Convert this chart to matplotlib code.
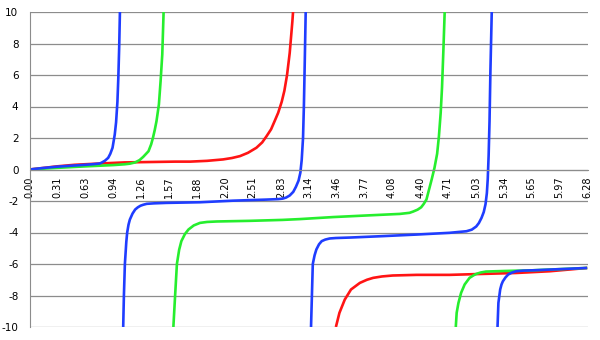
import numpy as np
import matplotlib
matplotlib.use('Agg')
import matplotlib.pyplot as plt

nan = np.nan

# Valores (NaN separa os ramos entre assíntotas)
azul_x = [0.00, 0.16, 0.31, 0.47, 0.63, 0.72, 0.79, 0.81, 0.85, 0.886, 0.91, 0.935, 0.96, 0.975, 0.99, 1.00, 1.01, 1.02,
          nan,
          1.055, 1.063, 1.074, 1.09, 1.10, 1.115, 1.13, 1.16, 1.19, 1.22, 1.25, 1.28, 1.32, 1.40, 1.54, 1.92, 2.29,
          2.67, 2.80, 2.85, 2.89, 2.93, 2.97, 3.00, 3.03, 3.05, 3.065, 3.08, 3.09, 3.10, 3.11,
          nan,
          3.17, 3.18, 3.19, 3.21, 3.23, 3.26, 3.29, 3.33, 3.38, 3.45, 3.61, 3.98, 4.36, 4.73, 4.92, 4.98, 5.03,
          5.06, 5.09, 5.115, 5.135, 5.15, 5.16, 5.17, 5.18, 5.19, 5.205,
          nan,
          5.27, 5.28, 5.30, 5.315, 5.33, 5.36, 5.39, 5.43, 5.48, 5.56, 5.67, 6.04, 6.28]
azul_y = [0.00, 0.10, 0.18, 0.24, 0.30, 0.34, 0.38, 0.43, 0.56, 0.74, 1.00, 1.38, 2.22, 3.00, 4.30, 5.80, 7.80, 10.5,
          nan,
          -10.0, -8.0, -6.0, -4.6, -4.0, -3.5, -3.18, -2.80, -2.54, -2.40, -2.30, -2.24, -2.18, -2.15, -2.12,
          -2.08, -1.98, -1.91, -1.88, -1.85, -1.78, -1.65, -1.42, -1.10, -0.70, -0.20, 0.60, 2.00, 4.10, 7.00, 10.0,
          nan,
          -10.0, -8.0, -6.0, -5.45, -5.08, -4.75, -4.55, -4.45, -4.38, -4.35, -4.32, -4.23, -4.13, -4.02, -3.92,
          -3.82, -3.62, -3.40, -3.07, -2.70, -2.20, -1.50, -0.60, 0.90, 3.07, 6.25, 10.0,
          nan,
          -10.0, -8.47, -7.62, -7.30, -7.10, -6.85, -6.67, -6.55, -6.46, -6.42, -6.40, -6.31, -6.25]

verde_x = [0.00, 0.20, 0.40, 0.60, 0.79, 0.94, 1.07, 1.13, 1.19, 1.24, 1.28, 1.31, 1.34, 1.37, 1.39, 1.41, 1.43,
           1.457, 1.476, 1.495, 1.51,
           nan,
           1.62, 1.64, 1.66, 1.685, 1.71, 1.75, 1.79, 1.85, 1.92, 2.00, 2.11, 2.48, 2.85, 3.04, 3.42, 3.79, 4.17,
           4.28, 4.32, 4.37, 4.41, 4.44, 4.47, 4.50, 4.53, 4.56, 4.59, 4.61, 4.63, 4.645, 4.66, 4.675,
           nan,
           4.80, 4.81, 4.83, 4.86, 4.90, 4.955, 5.00, 5.03, 5.08, 5.14, 5.25, 5.37, 5.67, 6.04, 6.28]
verde_y = [0.00, 0.07, 0.13, 0.19, 0.24, 0.28, 0.33, 0.37, 0.45, 0.60, 0.80, 0.98, 1.16, 1.60, 2.01, 2.50, 3.07,
           4.13, 5.60, 7.30, 10.0,
           nan,
           -10.0, -7.96, -5.99, -5.10, -4.55, -4.10, -3.81, -3.55, -3.39, -3.33, -3.30, -3.26, -3.20, -3.15, -3.02,
           -2.92, -2.82, -2.75, -2.67, -2.55, -2.40, -2.18, -1.90, -1.25, -0.60, 0.10, 1.00, 2.10, 3.60, 5.20, 7.50,
           10.0,
           nan,
           -10.0, -9.10, -8.47, -7.83, -7.30, -6.88, -6.72, -6.63, -6.54, -6.48, -6.46, -6.44, -6.40, -6.31, -6.25]

vermelho_x = [0.00, 0.16, 0.31, 0.51, 0.79, 1.07, 1.64, 1.81, 2.00, 2.18, 2.28, 2.37, 2.46, 2.555, 2.62, 2.67, 2.72,
              2.76, 2.80, 2.84, 2.87, 2.90, 2.93, 2.96, 2.975,
              nan,
              3.45, 3.49, 3.55, 3.62, 3.72, 3.80, 3.87, 3.97, 4.09, 4.36, 4.73, 5.10, 5.48, 5.86, 6.28]
vermelho_y = [0.00, 0.10, 0.20, 0.30, 0.38, 0.45, 0.50, 0.50, 0.55, 0.64, 0.73, 0.85, 1.06, 1.38, 1.72, 2.12, 2.55,
              3.07, 3.60, 4.30, 5.00, 6.00, 7.40, 9.40, 10.6,
              nan,
              -10.0, -9.10, -8.26, -7.62, -7.20, -7.00, -6.88, -6.79, -6.73, -6.69, -6.69, -6.63, -6.57, -6.46, -6.25]

rotulos_x = ['0.00', '0.31', '0.63', '0.94', '1.26', '1.57', '1.88', '2.20', '2.51', '2.83', '3.14',
             '3.46', '3.77', '4.08', '4.40', '4.71', '5.03', '5.34', '5.65', '5.97', '6.28']
pos_x = [float(r) for r in rotulos_x]
valores_y = [10, 8, 6, 4, 2, 0, -2, -4, -6, -8, -10]

fig = plt.figure(figsize=(6, 3.4), dpi=100)
ax = fig.add_axes([29.5 / 600, 13 / 340, 558 / 600, 315 / 340])

# Eixo x passando pelo zero (antes de configurar os rótulos)
ax.spines['bottom'].set_position(('data', 0))
ax.spines['bottom'].set_color('#8c8c8c')
ax.spines['left'].set_color('#8c8c8c')
ax.spines['top'].set_visible(False)
ax.spines['right'].set_visible(False)

ax.plot(vermelho_x, vermelho_y, color='#ff1414', lw=1.9, solid_capstyle='butt')
ax.plot(verde_x, verde_y, color='#26ee2e', lw=1.9, solid_capstyle='butt')
ax.plot(azul_x, azul_y, color='#1f3dff', lw=1.9, solid_capstyle='butt')

ax.set_xlim(0, 6.2832)
ax.set_ylim(-10, 10)

# Grade horizontal
for v in valores_y:
    ax.axhline(v, color='#8c8c8c', lw=0.9, zorder=0)

ax.set_yticks(valores_y)
ax.set_yticklabels([str(v) for v in valores_y], fontsize=7.5)
ax.set_xticks(pos_x)
ax.set_xticklabels(rotulos_x, rotation=90, fontsize=7)
ax.tick_params(axis='both', length=0)
ax.tick_params(axis='y', pad=8)
ax.tick_params(axis='x', pad=5)

plt.savefig('out.png', dpi=100)
